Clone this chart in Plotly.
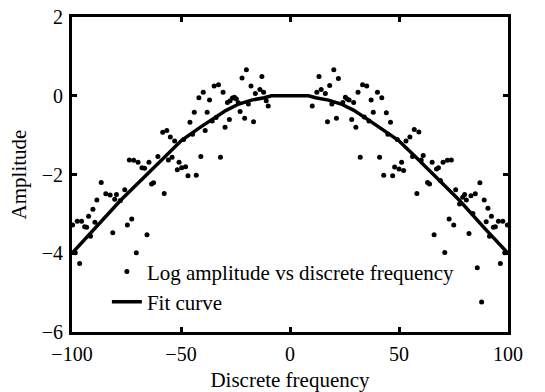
import plotly.graph_objects as go

# Scatter data: log amplitude vs discrete frequency
freq_left = [-99.7, -98.5, -97.6, -96.5, -95.6, -94.2, -93.3, -92.4, -91.5, -90.4,
             -89.5, -88.6, -86.6, -84.5, -82.5, -81.3, -80.4, -79.6, -77.8, -75.8,
             -74.6, -73.7, -72.6, -71.7, -70.5, -69.7, -67.9, -66.7, -65.6, -64.7,
             -63.5, -62.6, -60.6, -58.4, -57.7, -56.5, -55.8, -54.9, -54.1, -52.9,
             -51.7, -50.9, -49.7, -48.8, -47.9, -46.8, -45.9, -44.7, -43.9, -43.0,
             -41.8, -40.9, -39.8, -38.9, -38.0, -36.9, -35.7, -34.8, -33.9, -32.8,
             -31.9, -30.7, -29.8, -28.7, -27.8, -27.5, -26.4, -25.5, -24.6, -23.7,
             -22.9, -22.0, -20.8, -20.0, -19.1, -17.9, -16.7, -15.9, -13.8, -12.9,
             -12.1, -10.9, -10.0]
amp_left = [-3.28, -3.99, -3.19, -4.26, -3.19, -3.33, -3.34, -3.06, -3.57, -2.88,
            -3.21, -2.65, -2.20, -2.49, -2.52, -3.48, -2.63, -2.51, -2.66, -2.39,
            -3.28, -1.63, -3.13, -1.64, -3.99, -1.69, -1.83, -1.84, -3.53, -1.69,
            -2.24, -2.21, -1.54, -0.93, -2.48, -0.88, -1.63, -1.05, -1.56, -1.15,
            -1.88, -1.69, -1.83, -1.11, -1.80, -2.03, -0.67, -0.98, -0.42, -2.02,
            -0.05, -1.54, 0.09, -0.88, -0.42, -0.11, -0.64, 0.25, -0.55, 0.28,
            -1.56, 0.09, -0.80, -0.17, -0.60, -0.13, -0.06, -0.04, -0.08, -0.18,
            -0.40, 0.45, -0.57, 0.66, -0.21, 0.25, -0.66, 0.06, 0.16, 0.49,
            0.09, -0.13, -0.26]

freq_right = [10.2, 12.3, 13.3, 14.3, 16.2, 17.2, 18.2, 19.2, 20.1, 21.3,
              22.2, 24.2, 25.4, 26.2, 27.1, 28.3, 29.2, 30.2, 31.2, 32.2,
              33.3, 34.1, 35.2, 36.2, 37.2, 38.2, 40.1, 41.1, 42.1, 43.0,
              44.2, 44.9, 46.1, 47.1, 48.0, 49.2, 50.0, 51.2, 52.1, 53.2,
              55.0, 56.2, 57.0, 58.2, 59.1, 60.2, 61.1, 63.1, 64.0, 65.2,
              66.1, 67.2, 68.1, 69.0, 70.2, 71.0, 72.2, 73.0, 74.0, 75.1,
              76.0, 77.8, 79.2, 80.1, 80.9, 82.1, 83.0, 83.9, 85.0, 85.9,
              87.1, 87.9, 89.1, 90.0, 90.8, 91.5, 92.4, 93.3, 94.2, 95.6,
              96.5, 97.6, 98.5, 99.7]
amp_right = [-0.26, 0.09, 0.49, 0.16, 0.06, -0.66, 0.26, -0.21, 0.66, -0.57,
             0.44, -0.17, -0.04, -0.08, -0.11, -0.60, -0.17, -0.80, 0.09, -1.56,
             0.28, -0.54, 0.25, -0.64, -0.11, -0.42, 0.09, -1.56, -0.05, -2.02,
             -0.43, -0.98, -0.67, -2.03, -1.81, -1.11, -1.86, -1.69, -1.90, -1.15,
             -1.05, -1.54, -0.86, -2.48, -0.92, -1.63, -1.52, -2.20, -2.24, -1.69,
             -3.53, -1.86, -1.83, -2.15, -1.69, -3.98, -1.64, -3.13, -1.63, -3.28,
             -2.39, -2.75, -2.58, -2.51, -2.65, -3.50, -2.54, -2.99, -2.49, -4.37,
             -2.21, -5.24, -2.65, -3.20, -2.86, -3.57, -3.06, -3.34, -3.33, -3.19,
             -4.26, -3.19, -3.99, -3.28]

# Fit curve
fit_x = [-100, -89, -77.8, -66, -58.5, -49.7, -40.9, -35.1, -29.3, -23.5, -17.6,
         -11.8, -8.5, 0, 8.5, 11.8, 17.6, 23.5, 29.3, 35.1, 40.9, 49.7, 58.5, 66,
         77.8, 89, 100]
fit_y = [-4.0, -3.35, -2.66, -2.02, -1.6, -1.13, -0.79, -0.58, -0.37, -0.21, -0.11,
         -0.05, 0, 0, 0, -0.05, -0.11, -0.21, -0.37, -0.58, -0.79, -1.13, -1.6, -2.02,
         -2.66, -3.35, -4.0]

x_ticks = [-100, -50, 0, 50, 100]
y_ticks = [-6, -4, -2, 0, 2]

freq = freq_left + freq_right
amp = amp_left + amp_right

fig = go.Figure()
fig.add_trace(go.Scatter(x=freq, y=amp, mode="markers",
                         marker=dict(color="black", size=5),
                         name="Log amplitude vs discrete frequency"))
fig.add_trace(go.Scatter(x=fit_x, y=fit_y, mode="lines",
                         line=dict(color="black", width=3.5),
                         name="Fit curve"))

axis_common = dict(showline=True, linecolor="black", linewidth=3, mirror="ticks",
                   ticks="inside", ticklen=5, tickwidth=2.5, tickcolor="black",
                   showgrid=False, zeroline=False, tickfont=dict(size=20),
                   automargin=False)

fig.update_layout(
    width=545, height=392,
    margin=dict(l=72, r=37, t=17, b=60),
    paper_bgcolor="white", plot_bgcolor="white",
    font=dict(family="Liberation Serif", size=20, color="black"),
    xaxis=dict(range=[-100, 100], tickvals=x_ticks, ticklabelstandoff=2,
               title=dict(text="Discrete frequency", font=dict(size=21), standoff=24),
               **axis_common),
    yaxis=dict(range=[-6, 2], tickvals=y_ticks, ticklabelstandoff=2,
               title=dict(text="Amplitude", font=dict(size=21), standoff=10),
               **axis_common),
    legend=dict(x=0.08, y=0.031, xanchor="left", yanchor="bottom",
                bgcolor="rgba(255,255,255,0)", font=dict(size=21),
                tracegroupgap=0),
    showlegend=True,
)

fig.write_html("out.html")
